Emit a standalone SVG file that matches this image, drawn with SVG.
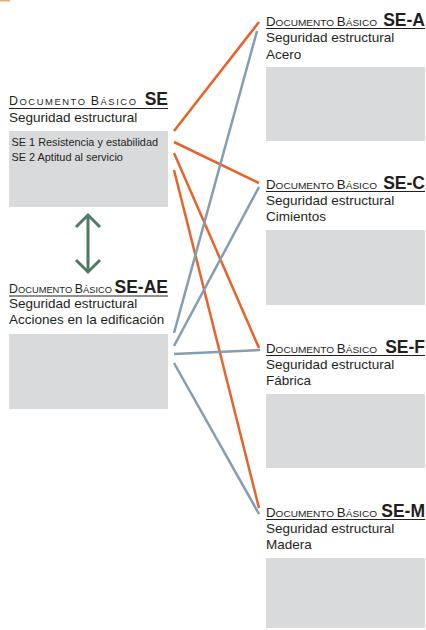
<svg xmlns="http://www.w3.org/2000/svg" width="426" height="630" viewBox="0 0 426 630">
<style>
text{font-family:"Liberation Sans",Arial,sans-serif;fill:#231f20}
.sub{font-size:13.5px}
.in{font-size:10.9px}
.sc{font-size:9.4px}
.cap{font-size:12.4px}
.code{font-size:17.5px;font-weight:bold;text-anchor:end}
.box{fill:#d9dadc}
.ul{stroke:#231f20;stroke-width:1.2}
.or{stroke:#e8622c;stroke-width:2.5;fill:none}
.bl{stroke:#849db0;stroke-width:2.5;fill:none}
.gr{stroke:#4f7a64;stroke-width:3;fill:none}
</style>
<rect x="0" y="0" width="10" height="1.5" fill="#f4a46f"/>
<g id="connectors">
<line class="or" x1="174" y1="131" x2="259" y2="22"/>
<line class="or" x1="174" y1="142" x2="259" y2="183"/>
<line class="or" x1="174" y1="153" x2="259" y2="348"/>
<line class="or" x1="174" y1="170" x2="259" y2="508"/>
<line class="bl" x1="174" y1="333" x2="257" y2="31"/>
<line class="bl" x1="174" y1="346" x2="259" y2="187"/>
<line class="bl" x1="174" y1="354" x2="260" y2="350"/>
<line class="bl" x1="174" y1="363" x2="259" y2="514"/>
<g id="arrow-se-seae">
<line class="gr" x1="88" y1="216" x2="88" y2="271"/>
<polyline class="gr" points="76,227 88,215 100,227"/>
<polyline class="gr" points="76,260 88,272 100,260"/>
</g>
</g>
<g id="node-se">
<text x="9" y="105" textLength="127" lengthAdjust="spacing"><tspan class="cap">D</tspan><tspan class="sc">OCUMENTO </tspan><tspan class="cap">B</tspan><tspan class="sc">ÁSICO</tspan></text>
<text class="code" x="168" y="105">SE</text>
<line class="ul" x1="9" y1="108.5" x2="168" y2="108.5"/>
<text class="sub" x="9" y="121.5">Seguridad estructural</text>
<rect class="box" x="9" y="131" width="159" height="76"/>
<text class="in" x="11.5" y="146">SE 1 Resistencia y estabilidad</text>
<text class="in" x="11.5" y="161">SE 2 Aptitud al servicio</text>
</g>
<g id="node-se-ae">
<text x="9" y="293" textLength="103" lengthAdjust="spacingAndGlyphs"><tspan class="cap">D</tspan><tspan class="sc">OCUMENTO </tspan><tspan class="cap">B</tspan><tspan class="sc">ÁSICO</tspan></text>
<text class="code" x="168" y="293">SE-AE</text>
<line class="ul" x1="9" y1="296" x2="168" y2="296"/>
<text class="sub" x="9" y="308">Seguridad estructural</text>
<text class="sub" x="9" y="324">Acciones en la edificación</text>
<rect class="box" x="9" y="334" width="159" height="75"/>
</g>
<g id="node-se-a">
<text x="266" y="25.5" textLength="111" lengthAdjust="spacingAndGlyphs"><tspan class="cap">D</tspan><tspan class="sc">OCUMENTO </tspan><tspan class="cap">B</tspan><tspan class="sc">ÁSICO</tspan></text>
<text class="code" x="425" y="25.5">SE-A</text>
<line class="ul" x1="266" y1="28.5" x2="425" y2="28.5"/>
<text class="sub" x="266" y="41.5">Seguridad estructural</text>
<text class="sub" x="266" y="58.5">Acero</text>
<rect class="box" x="266" y="67" width="159" height="74"/>
</g>
<g id="node-se-c">
<text x="266" y="188.5" textLength="111" lengthAdjust="spacingAndGlyphs"><tspan class="cap">D</tspan><tspan class="sc">OCUMENTO </tspan><tspan class="cap">B</tspan><tspan class="sc">ÁSICO</tspan></text>
<text class="code" x="425" y="188.5">SE-C</text>
<line class="ul" x1="266" y1="191.5" x2="425" y2="191.5"/>
<text class="sub" x="266" y="204.5">Seguridad estructural</text>
<text class="sub" x="266" y="221">Cimientos</text>
<rect class="box" x="266" y="230" width="159" height="75"/>
</g>
<g id="node-se-f">
<text x="266" y="352.5" textLength="111" lengthAdjust="spacingAndGlyphs"><tspan class="cap">D</tspan><tspan class="sc">OCUMENTO </tspan><tspan class="cap">B</tspan><tspan class="sc">ÁSICO</tspan></text>
<text class="code" x="425" y="352.5">SE-F</text>
<line class="ul" x1="266" y1="355.5" x2="425" y2="355.5"/>
<text class="sub" x="266" y="368.5">Seguridad estructural</text>
<text class="sub" x="266" y="385">Fábrica</text>
<rect class="box" x="266" y="394" width="159" height="74"/>
</g>
<g id="node-se-m">
<text x="266" y="516.5" textLength="111" lengthAdjust="spacingAndGlyphs"><tspan class="cap">D</tspan><tspan class="sc">OCUMENTO </tspan><tspan class="cap">B</tspan><tspan class="sc">ÁSICO</tspan></text>
<text class="code" x="425" y="516.5">SE-M</text>
<line class="ul" x1="266" y1="519.5" x2="425" y2="519.5"/>
<text class="sub" x="266" y="532.5">Seguridad estructural</text>
<text class="sub" x="266" y="549">Madera</text>
<rect class="box" x="266" y="558" width="159" height="70"/>
</g>
</svg>
